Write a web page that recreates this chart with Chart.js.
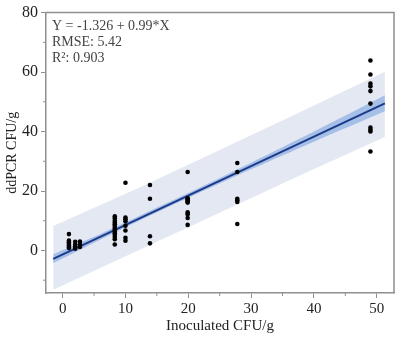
<!DOCTYPE html>
<html>
<head>
<meta charset="utf-8">
<script src="https://cdn.jsdelivr.net/npm/chart.js@4"></script>
<style>
  html, body { margin:0; padding:0; background:#fff; }
  #wrap { width:401px; height:337px; }
</style>
</head>
<body>
<div id="wrap"><canvas id="chart-ddpcr"></canvas></div>
<script>
// ── Data: inoculated level vs. measured ddPCR count ─────────
const inocX   = [1, 1, 1, 1, 1, 1, 1,
                 2, 2, 2, 2,
                 2.75, 2.75, 2.75,
                 8.3, 8.3, 8.3, 8.3, 8.3, 8.3, 8.3, 8.3, 8.3, 8.3, 8.3, 8.3, 8.3, 8.3,
                 10, 10, 10, 10, 10, 10, 10, 10,
                 13.9, 13.9, 13.9, 13.9,
                 19.9, 19.9, 19.9, 19.9, 19.9, 19.9, 19.9, 19.9, 19.9, 19.9,
                 27.8, 27.8, 27.8, 27.8, 27.8, 27.8,
                 49, 49, 49, 49, 49, 49, 49, 49, 49, 49];
const ddpcrY  = [5.5, 3.3, 2.8, 2.2, 1.7, 1.2, 0.8,
                 2.9, 2.0, 1.3, 0.6,
                 3.0, 2.0, 1.2,
                 11.5, 10.8, 10.0, 9.4, 8.8, 8.2, 7.6, 7.0, 6.4, 5.8, 5.2, 4.5, 3.8, 2.0,
                 22.8, 11.1, 10.5, 9.8, 8.3, 6.7, 4.3, 3.3,
                 22.0, 17.4, 4.8, 2.4,
                 26.4, 17.6, 17.2, 16.9, 16.5, 16.1, 12.8, 12.2, 10.9, 8.6,
                 29.4, 26.4, 17.4, 16.9, 16.3, 8.9,
                 63.9, 59.2, 56.1, 55.2, 53.6, 49.4, 41.3, 40.6, 40.0, 33.3];

// Regression: Y = -1.326 + 0.99*X
const fitIntercept = -1.326;
const fitSlope     = 0.99;
const fitRange     = [-1.5, 51.3];

// Confidence band (mean) and prediction band edges
const confX     = [-1.5, 5, 12, 20, 30, 40, 51.3];
const confUpper = [-1.3, 4.6, 11.4, 19.3, 29.5, 40.0, 52.2];
const confLower = [-4.3, 2.6, 9.8, 17.7, 27.3, 36.6, 46.8];
const predX     = [-1.5, 12, 25, 38, 51.3];
const predUpper = [8.2, 20.9, 33.8, 46.7, 60.1];
const predLower = [-13.2, 0.0, 12.7, 25.5, 38.2];

const statLines = ['Y = -1.326 + 0.99*X', 'RMSE: 5.42', 'R\u00B2: 0.903'];
const xTickVals = [0, 10, 20, 30, 40, 50];
const yTickVals = [0, 20, 40, 60, 80];

const SERIF = '"Liberation Serif", "DejaVu Serif", serif';
const AXIS_GREY = '#8f8f8f';

const pairs = (xs, ys) => xs.map((x, i) => ({ x, y: ys[i] }));

// Frame, minor ticks and the fit statistics text
const framePlugin = {
  id: 'frame',
  afterDraw(chart) {
    const { ctx, chartArea: a, scales } = chart;
    ctx.save();
    ctx.strokeStyle = AXIS_GREY;
    ctx.lineWidth = 1.5;
    ctx.beginPath();
    ctx.moveTo(a.left, a.top); ctx.lineTo(a.right, a.top); ctx.lineTo(a.right, a.bottom);
    ctx.stroke();

    // minor ticks halfway between labelled ones
    ctx.lineWidth = 1;
    ctx.beginPath();
    for (let v = 5; v < 55; v += 10) {
      const px = scales.x.getPixelForValue(v);
      ctx.moveTo(px, a.bottom); ctx.lineTo(px, a.bottom + 3);
    }
    for (let v = -10; v < 80; v += 20) {
      const py = scales.y.getPixelForValue(v);
      ctx.moveTo(a.left, py); ctx.lineTo(a.left - 3, py);
    }
    ctx.stroke();

    ctx.fillStyle = '#444';
    ctx.font = '14px ' + SERIF;
    ctx.textBaseline = 'middle';
    statLines.forEach((t, i) => ctx.fillText(t, a.left + 6, a.top + 14 + i * 16));
    ctx.restore();
  }
};

const ctx = document.getElementById('chart-ddpcr');
new Chart(ctx, {
  type: 'scatter',
  data: {
    datasets: [
      { label: 'samples', data: pairs(inocX, ddpcrY),
        backgroundColor: '#000', borderColor: '#000', pointRadius: 2.3, pointBorderWidth: 0 },
      { label: 'fit', type: 'line',
        data: fitRange.map(x => ({ x, y: fitIntercept + fitSlope * x })),
        borderColor: '#1c3a8a', borderWidth: 2, pointRadius: 0, fill: false },
      { label: 'conf hi', type: 'line', data: pairs(confX, confUpper),
        borderWidth: 0, pointRadius: 0, tension: 0.3,
        fill: '+1', backgroundColor: 'rgba(150,180,228,0.8)' },
      { label: 'conf lo', type: 'line', data: pairs(confX, confLower),
        borderWidth: 0, pointRadius: 0, tension: 0.3, fill: false },
      { label: 'pred hi', type: 'line', data: pairs(predX, predUpper),
        borderWidth: 0, pointRadius: 0, fill: '+1', backgroundColor: 'rgb(227,232,243)' },
      { label: 'pred lo', type: 'line', data: pairs(predX, predLower),
        borderWidth: 0, pointRadius: 0, fill: false }
    ]
  },
  options: {
    responsive: true,
    maintainAspectRatio: false,
    animation: false,
    layout: { padding: { top: 10, right: 7, left: 0, bottom: 0 } },
    plugins: { legend: { display: false }, tooltip: { enabled: false } },
    scales: {
      x: {
        type: 'linear', min: -2.65, max: 52.75,
        afterFit: s => { s.height = 44; },
        afterBuildTicks: s => { s.ticks = xTickVals.map(v => ({ value: v })); },
        grid: { drawOnChartArea: false, drawTicks: true, tickLength: 5, tickColor: AXIS_GREY },
        border: { color: AXIS_GREY, width: 1.5 },
        ticks: { color: '#222', padding: 2, font: { family: SERIF, size: 15 } },
        title: { display: true, text: 'Inoculated CFU/g', color: '#222',
                 padding: { top: 0, bottom: 2 }, font: { family: SERIF, size: 15 } }
      },
      y: {
        type: 'linear', min: -14.3, max: 80,
        afterFit: s => { s.width = 46; },
        afterBuildTicks: s => { s.ticks = yTickVals.map(v => ({ value: v })); },
        grid: { drawOnChartArea: false, drawTicks: true, tickLength: 5, tickColor: AXIS_GREY },
        border: { color: AXIS_GREY, width: 1.5 },
        ticks: { color: '#222', padding: 3, font: { family: SERIF, size: 16 } },
        title: { display: true, text: 'ddPCR CFU/g', color: '#222',
                 padding: { top: 4, bottom: 0 }, font: { family: SERIF, size: 14 } }
      }
    }
  },
  plugins: [framePlugin]
});
</script>
</body>
</html>
